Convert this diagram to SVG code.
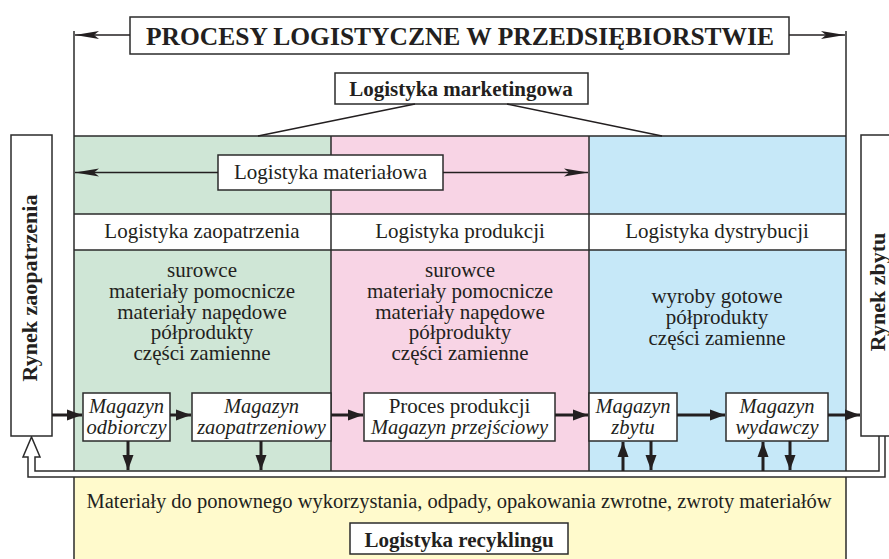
<svg xmlns="http://www.w3.org/2000/svg" width="889" height="559" viewBox="0 0 889 559">
  <style>
    .ln { stroke: #2b2b2b; stroke-width: 1.5; fill: none; }
    .box { stroke: #2b2b2b; stroke-width: 1.5; fill: #ffffff; }
    .t { font-family: "Liberation Serif", "Times New Roman", serif; fill: #231f20; text-anchor: middle; }
    .n { font-size: 21px; }
    .b { font-size: 21px; font-weight: bold; }
    .i { font-size: 20.5px; font-style: italic; }
    .thin { stroke: #231f20; stroke-width: 1.5; fill: none; }
    .flow { stroke: #231f20; stroke-width: 3; fill: none; }
  </style>
  <defs>
    <marker id="headThin" markerUnits="userSpaceOnUse" markerWidth="26" markerHeight="10" refX="24" refY="5" orient="auto">
      <path d="M0,1 L24,5 L0,9 L5,5 z" fill="#231f20"/>
    </marker>
    <marker id="headFlow" markerUnits="userSpaceOnUse" markerWidth="16" markerHeight="12" refX="15" refY="6" orient="auto">
      <path d="M0,0.5 L15,6 L0,11.5 z" fill="#231f20"/>
    </marker>
  </defs>

  <!-- coloured areas -->
  <g id="areas">
    <rect x="74" y="136" width="257" height="335" fill="#cfe6d6"/>
    <rect x="331" y="136" width="258" height="335" fill="#f8d4e5"/>
    <rect x="589" y="136" width="257" height="335" fill="#c6e8f8"/>
    <rect x="74" y="214" width="772" height="36" fill="#ffffff"/>
    <rect x="74" y="477" width="772" height="90" fill="#fffacc"/>
    <path class="ln" d="M74,136 H846 M74,214 H846 M74,250 H846 M331,136 V471 M589,136 V471"/>
    <path class="ln" d="M74,31 V559 M846,31 V559"/>
  </g>

  <!-- return channel back to the supply market -->
  <g id="return">
    <path d="M879,436 V471 H35 V457 H40 L31.5,437 L23,457 H28 V477 H885 V436" fill="#ffffff" stroke="#2b2b2b" stroke-width="1.5"/>
  </g>

  <g id="title">
    <rect class="box" x="130" y="17" width="659" height="37"/>
    <text class="t" x="460" y="45" font-size="25.5" font-weight="bold">PROCESY LOGISTYCZNE W PRZEDSIĘBIORSTWIE</text>
  </g>

  <g id="marketing">
    <rect class="box" x="335" y="73" width="253" height="31"/>
    <text class="t b" x="461" y="96">Logistyka marketingowa</text>
  </g>

  <g id="material">
    <rect class="box" x="218" y="155" width="225" height="35"/>
    <text class="t n" x="330.5" y="179">Logistyka materiałowa</text>
  </g>

  <g id="supply-market">
    <rect class="box" x="11" y="135" width="41" height="301"/>
    <text class="t" font-size="22" font-weight="bold" transform="translate(37,288) rotate(-90)">Rynek zaopatrzenia</text>
  </g>

  <g id="sales-market">
    <rect class="box" x="861" y="135" width="50" height="301"/>
    <text class="t" font-size="22" font-weight="bold" transform="translate(885,292) rotate(-90)">Rynek zbytu</text>
  </g>

  <g id="procurement">
    <text class="t n" x="202" y="238">Logistyka zaopatrzenia</text>
    <text class="t n" x="202" y="277">surowce</text>
    <text class="t n" x="202" y="298">materiały pomocnicze</text>
    <text class="t n" x="202" y="318.5">materiały napędowe</text>
    <text class="t n" x="202" y="339">półprodukty</text>
    <text class="t n" x="202" y="360">części zamienne</text>
  </g>

  <g id="production">
    <text class="t n" x="460" y="238">Logistyka produkcji</text>
    <text class="t n" x="460" y="277">surowce</text>
    <text class="t n" x="460" y="298">materiały pomocnicze</text>
    <text class="t n" x="460" y="318.5">materiały napędowe</text>
    <text class="t n" x="460" y="339">półprodukty</text>
    <text class="t n" x="460" y="360">części zamienne</text>
  </g>

  <g id="distribution">
    <text class="t n" x="717" y="238">Logistyka dystrybucji</text>
    <text class="t n" x="717" y="303">wyroby gotowe</text>
    <text class="t n" x="717" y="324">półprodukty</text>
    <text class="t n" x="717" y="345">części zamienne</text>
  </g>

  <g id="receiving-store">
    <rect class="box" x="83" y="393" width="87" height="48"/>
    <text class="t i" x="126.5" y="413">Magazyn</text>
    <text class="t i" x="126.5" y="434">odbiorczy</text>
  </g>

  <g id="supply-store">
    <rect class="box" x="192" y="393" width="139" height="48"/>
    <text class="t i" x="261.5" y="413">Magazyn</text>
    <text class="t i" x="261.5" y="434">zaopatrzeniowy</text>
  </g>

  <g id="production-process">
    <rect class="box" x="364" y="393" width="191" height="48"/>
    <text class="t n" x="459.5" y="413">Proces produkcji</text>
    <text class="t i" x="459.5" y="434">Magazyn przejściowy</text>
  </g>

  <g id="sales-store">
    <rect class="box" x="589" y="393" width="88" height="48"/>
    <text class="t i" x="633" y="413">Magazyn</text>
    <text class="t i" x="633" y="434">zbytu</text>
  </g>

  <g id="dispatch-store">
    <rect class="box" x="726" y="393" width="102" height="48"/>
    <text class="t i" x="777" y="413">Magazyn</text>
    <text class="t i" x="777" y="434">wydawczy</text>
  </g>

  <g id="recycling">
    <text class="t" font-size="20.5" x="459" y="508">Materiały do ponownego wykorzystania, odpady, opakowania zwrotne, zwroty materiałów</text>
    <rect class="box" x="350" y="523" width="218" height="31"/>
    <text class="t b" x="459" y="547">Logistyka recyklingu</text>
  </g>

  <!-- connectors -->
  <g id="connectors">
    <path class="thin" d="M130,35 H75" marker-end="url(#headThin)"/>
    <path class="thin" d="M789,35 H845" marker-end="url(#headThin)"/>
    <path class="thin" d="M415,104 L258,136 M507,104 L662,136"/>
    <path class="thin" d="M218,172.5 H75" marker-end="url(#headThin)"/>
    <path class="thin" d="M443,172.5 H588" marker-end="url(#headThin)"/>

    <path class="flow" d="M52,415 H82" marker-end="url(#headFlow)"/>
    <path class="flow" d="M170,415 H191" marker-end="url(#headFlow)"/>
    <path class="flow" d="M331,415 H363" marker-end="url(#headFlow)"/>
    <path class="flow" d="M555,415 H588" marker-end="url(#headFlow)"/>
    <path class="flow" d="M677,415 H725" marker-end="url(#headFlow)"/>
    <path class="flow" d="M828,415 H860" marker-end="url(#headFlow)"/>

    <path class="flow" d="M128,441 V470" marker-end="url(#headFlow)"/>
    <path class="flow" d="M261,441 V470" marker-end="url(#headFlow)"/>
    <path class="flow" d="M623,471 V442" marker-end="url(#headFlow)"/>
    <path class="flow" d="M651,441 V470" marker-end="url(#headFlow)"/>
    <path class="flow" d="M763,471 V442" marker-end="url(#headFlow)"/>
    <path class="flow" d="M790,441 V470" marker-end="url(#headFlow)"/>
  </g>
</svg>
